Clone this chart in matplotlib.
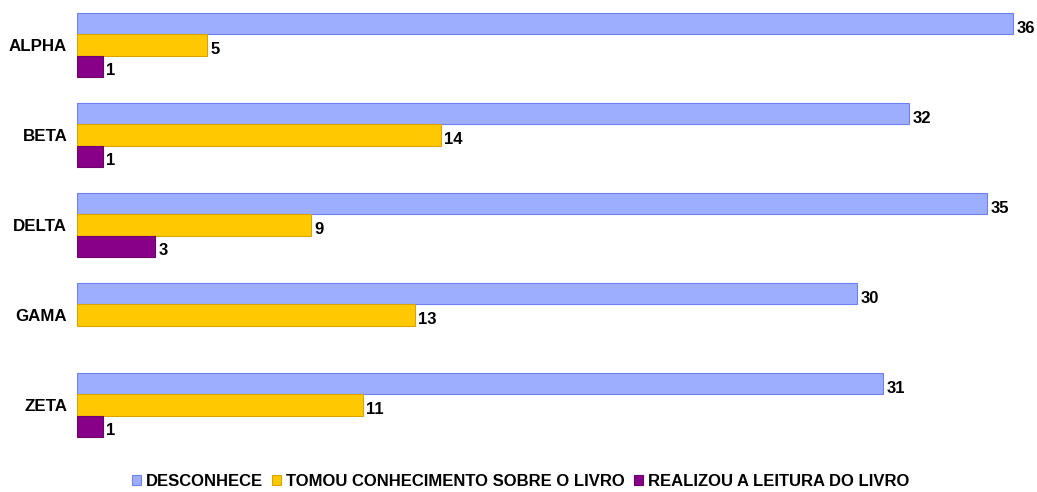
import matplotlib
matplotlib.use("Agg")
import matplotlib.pyplot as plt
import numpy as np

plt.rcParams['font.family'] = ['Liberation Sans', 'DejaVu Sans']

groups = ["ALPHA", "BETA", "DELTA", "GAMA", "ZETA"]
desconhece = [36, 32, 35, 30, 31]
tomou_conhecimento = [5, 14, 9, 13, 11]
realizou_leitura = [1, 1, 3, None, 1]

series = [
    ("DESCONHECE", desconhece, "#9eaeff", "#6f80f2"),
    ("TOMOU CONHECIMENTO SOBRE O LIVRO", tomou_conhecimento, "#ffc800", "#d9a400"),
    ("REALIZOU A LEITURA DO LIVRO", realizou_leitura, "#880088", "#6e006e"),
]

fig = plt.figure(figsize=(10.37, 4.92), dpi=100)
ax = fig.add_axes([77 / 1037, 42 / 492, 953 / 1037, 450 / 492])

pos = np.arange(len(groups))
h = 0.235
offsets = [-h, 0, h]

for (name, vals, color, edge), off in zip(series, offsets):
    idx = [i for i, v in enumerate(vals) if v is not None]
    vv = [vals[i] for i in idx]
    bars = ax.barh(pos[idx] + off, vv, height=h, color=color, edgecolor=edge,
                   linewidth=0.8, label=name)
    for b, v in zip(bars, vv):
        ax.annotate(str(v), (b.get_width(), b.get_y() + b.get_height() / 2),
                    xytext=(2.5, -3), textcoords="offset points",
                    ha="left", va="center", fontsize=12, fontweight="bold",
                    annotation_clip=False)

ax.set_xlim(0, 953 / 26)
ax.set_ylim(len(groups) - 0.5, -0.5)
ax.set_yticks(pos)
ax.set_yticklabels(groups, fontsize=12.2, fontweight="bold")
ax.tick_params(axis="y", length=0, pad=7)
ax.set_xticks([])
for s in ax.spines.values():
    s.set_visible(False)

fig.legend(loc="lower center", bbox_to_anchor=(0.502, -0.025), ncol=3, frameon=False,
           handlelength=0.55, handleheight=0.55, handletextpad=0.3, columnspacing=0.55,
           prop={"size": 12, "weight": "bold"})

fig.savefig("out.png", dpi=100)
